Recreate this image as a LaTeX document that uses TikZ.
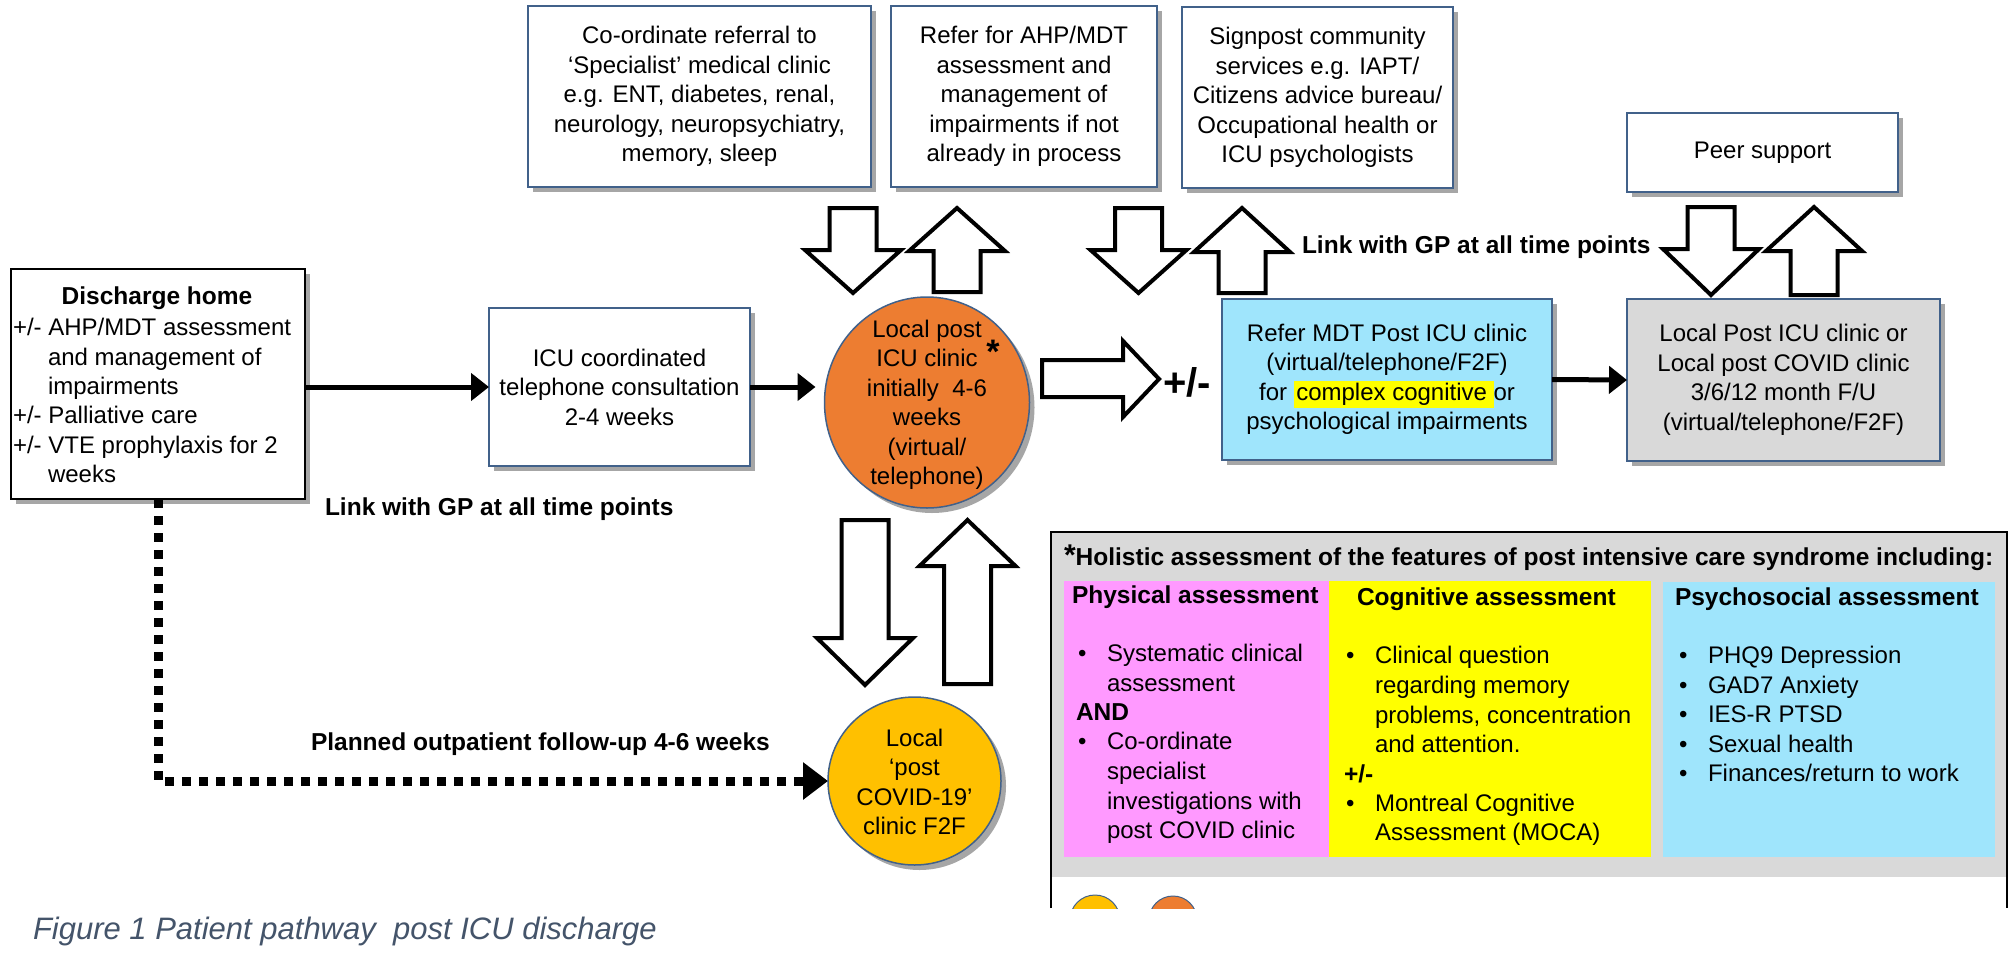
\documentclass[tikz,border=0pt]{standalone}
\usepackage{fontspec}
\setmainfont{Liberation Sans}
\usetikzlibrary{arrows.meta,shadows,shapes.geometric}

\definecolor{boxline}{HTML}{41618A}
\definecolor{shade}{HTML}{A6A6A6}
\definecolor{orangefill}{HTML}{ED7D31}
\definecolor{goldfill}{HTML}{FFC000}
\definecolor{cyanfill}{HTML}{9FE5FC}
\definecolor{greyfill}{HTML}{D9D9D9}
\definecolor{pinkfill}{HTML}{FF99FF}
\definecolor{lemon}{HTML}{FFFF00}
\definecolor{captioncol}{HTML}{44546A}

\tikzset{
  every node/.style={inner sep=0pt, outer sep=0pt},
  body/.style={font=\fontsize{24}{29.5}\selectfont, align=center},
  bodyb/.style={font=\fontsize{24.5}{29.5}\selectfont\bfseries},
  listline/.style={font=\fontsize{24}{29.5}\selectfont, anchor=west, text height=17.5pt, text depth=5pt},
  shadowed/.style={drop shadow={shadow xshift=5pt, shadow yshift=-5pt, fill=shade, opacity=1}},
  box/.style={draw=boxline, line width=1.5pt, fill=white, shadowed},
  blockarrow/.style={draw=black, line width=4pt, fill=white, line join=miter},
  conn/.style={line width=5pt, -{Triangle[length=18pt,width=27pt]}},
  dotconn/.style={line width=9pt, dash pattern=on 9pt off 8pt, -{Triangle[length=25pt,width=36pt]}},
  pics/downarrow/.style n args={2}{code={
    \draw[blockarrow] (-23.5,0) -- (23.5,0) -- (23.5,#1-#2) -- (48,#1-#2) -- (0,#1)
      -- (-48,#1-#2) -- (-23.5,#1-#2) -- cycle;}},
  pics/uparrow/.style n args={2}{code={
    \draw[blockarrow] (0,0) -- (48,#2) -- (23.5,#2) -- (23.5,#1) -- (-23.5,#1)
      -- (-23.5,#2) -- (-48,#2) -- cycle;}},
}

\begin{document}
\begin{tikzpicture}[x=1pt,y=-1pt]
\fill[white] (0,0) rectangle (2015,961);
\useasboundingbox (0,0) rectangle (2015,961);

% ---------- top row of referral boxes ----------
\node[box, body, minimum width=343pt, minimum height=181pt] (spec) at (699.5,96.5)
  {Co-ordinate referral to\\ `Specialist' medical clinic\\ e.g. ENT, diabetes, renal,\\ neurology, neuropsychiatry,\\ memory, sleep};
\node[box, body, minimum width=266pt, minimum height=181pt] (ahp) at (1024,96.5)
  {Refer for AHP/MDT\\ assessment and\\ management of\\ impairments if not\\ already in process};
\node[box, body, minimum width=271pt, minimum height=181pt] (sign) at (1317.5,97.5)
  {Signpost community\\ services e.g. IAPT/\\ Citizens advice bureau/\\ Occupational health or\\ ICU psychologists};
\node[box, body, minimum width=271pt, minimum height=79pt] (peer) at (1762.5,152.5)
  {Peer support};

% ---------- main pathway ----------
\node[box, draw=black, line width=2pt, minimum width=294pt, minimum height=230pt] (dis) at (158,384) {};
\node[bodyb, font=\fontsize{24.5}{29.3}\selectfont\bfseries] (dishead) at (157,298) {Discharge home};
\node[font=\fontsize{24}{29.3}\selectfont, align=left, anchor=north west] (distext) at (13,318.5)
  {+/- AHP/MDT assessment\\ \hspace*{35pt}and management of\\ \hspace*{35pt}impairments\\
   +/- Palliative care\\ +/- VTE prophylaxis for 2\\ \hspace*{35pt}weeks};

\node[box, body, minimum width=261pt, minimum height=158pt] (icu) at (619.5,387)
  {ICU coordinated\\ telephone consultation\\ 2-4 weeks};

\node[ellipse, draw=boxline, line width=1.5pt, fill=orangefill, shadowed,
      minimum width=205pt, minimum height=211pt] (orange) at (927,402.5) {};
\node[body] (orangetext) at (927,405)
  {Local post\\ ICU clinic\\ initially\ \ 4-6\\ weeks\\ (virtual/\\ telephone)};
\node[font=\fontsize{34}{34}\selectfont\bfseries] (star) at (993,352) {*};

\node[box, fill=cyanfill, body, minimum width=330pt, minimum height=161pt] (mdt) at (1387,379.5)
  {Refer MDT Post ICU clinic\\ (virtual/telephone/F2F)\\
   for {\setlength{\fboxsep}{2.5pt}\colorbox{lemon}{complex cognitive\,}}or\\ psychological impairments};

\node[box, fill=greyfill, body, minimum width=313pt, minimum height=162pt] (local) at (1783.5,380)
  {Local Post ICU clinic or\\ Local post COVID clinic\\ 3/6/12 month F/U\\ (virtual/telephone/F2F)};

\node[ellipse, draw=boxline, line width=1.5pt, fill=goldfill, shadowed,
      minimum width=173pt, minimum height=168pt] (covid) at (914.5,781) {};
\node[body] (covidtext) at (914.5,782)
  {Local\\ `post\\ COVID-19'\\ clinic F2F};

% ---------- connectors ----------
\draw[conn] (dis.east |- icu.west) -- (icu.west);
\draw[conn, shorten >=9pt] (icu.east) -- (icu.east -| orange.west);
\draw[conn] (mdt.east) -- (local.west);
\draw[dotconn] (dis.south) |- (covid.west);

% block arrows between clinics and services
\pic at (853,208) {downarrow={85}{43}};
\pic at (957,208) {uparrow={84}{43}};
\pic at (1138.5,208) {downarrow={85}{43}};
\pic at (1242,208) {uparrow={85}{44}};
\pic at (1711,207) {downarrow={88}{46}};
\pic at (1814,207) {uparrow={88}{44}};
\pic at (865,520) {downarrow={165}{47}};
\pic at (967.5,520) {uparrow={164}{46}};
\draw[blockarrow] (1042,360) -- (1123,360) -- (1123,341) -- (1159,379)
  -- (1123,417) -- (1123,397) -- (1042,397) -- cycle;

% ---------- free labels ----------
\node[font=\fontsize{40}{40}\selectfont\bfseries, anchor=west] (pm) at (1163,382) {+/-};
\node[bodyb, anchor=west] (gpup) at (1302,247) {Link with GP at all time points};
\node[bodyb, anchor=west] (gplow) at (325,509) {Link with GP at all time points};
\node[bodyb, anchor=west] (planned) at (311,744) {Planned outpatient follow-up 4-6 weeks};
\node[font=\fontsize{31}{31}\selectfont\itshape, text=captioncol, anchor=west] (caption) at (33,931)
  {Figure 1 Patient pathway\ \ post ICU discharge};

% ---------- holistic assessment panel ----------
\fill[greyfill] (1051,532) rectangle (2007,877);
\begin{scope}
  \clip (1040,520) rectangle (2015,908);
  \draw[boxline, line width=1pt, fill=goldfill] (1095,920) circle (25);
  \draw[boxline, line width=1pt, fill=orangefill] (1173,920) circle (24);
\end{scope}
\draw[black, line width=2.5pt] (1051,908) -- (1051,532) -- (2007,532) -- (2007,908);
\node[bodyb, anchor=west] (holtitle) at (1064,558)
  {{\fontsize{30}{30}\selectfont *}Holistic assessment of the features of post intensive care syndrome including:};

\fill[pinkfill] (1064,581) rectangle (1329,857);
\fill[lemon] (1329,581) rectangle (1651,857);
\fill[cyanfill] (1663,582) rectangle (1995,857);

\node[bodyb, anchor=west] (phys) at (1072,597) {Physical assessment};
\node[bodyb, anchor=west] (cogn) at (1357,599) {Cognitive assessment};
\node[bodyb, anchor=west] (psyc) at (1675,599) {Psychosocial assessment};

% physical column
\node[listline] (pb1) at (1078,655) {•};
\node[listline] (p1) at (1107,655) {Systematic clinical};
\node[listline] (p2) at (1107,685) {assessment};
\node[listline, font=\fontsize{24.5}{29.5}\selectfont\bfseries] (pand) at (1076,714) {AND};
\node[listline] (pb2) at (1078,743) {•};
\node[listline] (p3) at (1107,743) {Co-ordinate};
\node[listline] (p4) at (1107,773) {specialist};
\node[listline] (p5) at (1107,803) {investigations with};
\node[listline] (p6) at (1107,832) {post COVID clinic};

% cognitive column
\node[listline] (cb1) at (1346,657) {•};
\node[listline] (c1) at (1375,657) {Clinical question};
\node[listline] (c2) at (1375,687) {regarding memory};
\node[listline] (c3) at (1375,717) {problems, concentration};
\node[listline] (c4) at (1375,746) {and attention.};
\node[listline, font=\fontsize{24.5}{29.5}\selectfont\bfseries] (cpm) at (1344,776) {+/-};
\node[listline] (cb2) at (1346,805) {•};
\node[listline] (c5) at (1375,805) {Montreal Cognitive};
\node[listline] (c6) at (1375,834) {Assessment (MOCA)};

% psychosocial column
\node[listline] (sb1) at (1679,657) {•};
\node[listline] (s1) at (1708,657) {PHQ9 Depression};
\node[listline] (sb2) at (1679,687) {•};
\node[listline] (s2) at (1708,687) {GAD7 Anxiety};
\node[listline] (sb3) at (1679,716) {•};
\node[listline] (s3) at (1708,716) {IES-R PTSD};
\node[listline] (sb4) at (1679,746) {•};
\node[listline] (s4) at (1708,746) {Sexual health};
\node[listline] (sb5) at (1679,775) {•};
\node[listline] (s5) at (1708,775) {Finances/return to work};
\end{tikzpicture}
\end{document}
